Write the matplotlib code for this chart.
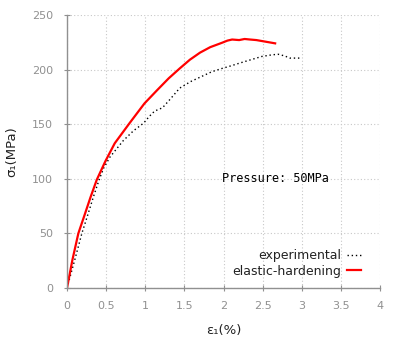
import matplotlib
matplotlib.use("Agg")
import matplotlib.pyplot as plt

# experimental curve (strain %, stress MPa)
exp_strain = [0, 0.1, 0.19, 0.27, 0.34, 0.41, 0.47, 0.55, 0.72, 0.85, 0.98, 1.05,
              1.12, 1.22, 1.32, 1.44, 1.58, 1.70, 1.85, 1.98, 2.10, 2.21, 2.35,
              2.49, 2.62, 2.70, 2.78, 2.85, 2.98]
exp_stress = [0, 26, 50, 68, 84, 99, 110, 120, 135, 144, 151, 157,
              162, 165, 173, 183, 189, 193, 198, 201, 203.5, 206, 209,
              212, 213.5, 214, 212.5, 210.5, 210.5]

# elastic-hardening model
mod_strain = [0, 0.07, 0.145, 0.23, 0.30, 0.38, 0.49, 0.61, 0.80, 0.99, 1.15,
              1.30, 1.44, 1.57, 1.70, 1.83, 1.98, 2.05, 2.11, 2.20, 2.27, 2.34,
              2.42, 2.50, 2.58, 2.66]
mod_stress = [0, 26, 50, 68, 83, 99, 116, 132.5, 151, 169, 181,
              192, 201, 209, 215.5, 220.5, 224.5, 226.5, 227.5, 227, 228, 227.5,
              227, 226, 225, 224]

xticks = [0, 0.5, 1, 1.5, 2, 2.5, 3, 3.5, 4]
xtick_labels = ["0", "0.5", "1", "1.5", "2", "2.5", "3", "3.5", "4"]
yticks = [0, 50, 100, 150, 200, 250]

fig = plt.figure(figsize=(4, 3.56), dpi=100)
ax = fig.add_axes([0.1675, 0.191, 0.7825, 0.767])

ax.plot(exp_strain, exp_stress, color="black", lw=1.0, linestyle=(0, (1, 2)),
        label="experimental")
ax.plot(mod_strain, mod_stress, color="#ff0000", lw=1.6, label="elastic-hardening")

ax.set_xlim(0, 4)
ax.set_ylim(0, 250)
ax.set_xticks(xticks)
ax.set_xticklabels(xtick_labels)
ax.set_yticks(yticks)

ax.grid(True, color="#c8c8c8", linestyle=(0, (1, 2)), lw=0.8)
for s in ["top", "right"]:
    ax.spines[s].set_visible(False)
for s in ["left", "bottom"]:
    ax.spines[s].set_color("#909090")
    ax.spines[s].set_linewidth(1.0)

ax.tick_params(axis="both", direction="inout", length=4, width=0.8, color="#909090",
               labelcolor="#909090", labelsize=8)
ax.tick_params(axis="x", pad=7)
ax.tick_params(axis="y", pad=8)

ax.set_xlabel("ε₁(%)", fontsize=9.5, color="#222222", labelpad=10)
ax.set_ylabel("σ₁(MPa)", fontsize=9.5, color="#222222", labelpad=10)

ax.text(1.98, 100, "Pressure: 50MPa", family="DejaVu Sans Mono", fontsize=8.6,
        ha="left", va="center", color="black")

leg = ax.legend(loc="lower right", bbox_to_anchor=(0.955, 0.02), borderaxespad=0,
                frameon=False, markerfirst=False, fontsize=9, handlelength=1.1,
                handletextpad=0.5, labelspacing=0.2)
for t in leg.get_texts():
    t.set_color("#222222")

fig.savefig("out.png", dpi=100)
